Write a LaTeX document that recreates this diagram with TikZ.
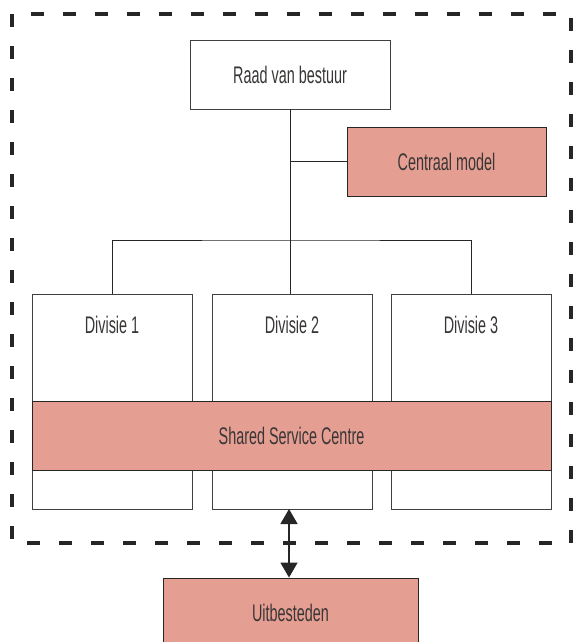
\documentclass[tikz,border=0pt]{standalone}
\usepackage{fontspec}
\setmainfont{Liberation Sans}[FakeStretch=0.6]
\usetikzlibrary{arrows.meta}
\definecolor{salmon}{HTML}{E59E92}
\definecolor{ink}{HTML}{3A3636}
\begin{document}
\begin{tikzpicture}[x=1pt,y=-1pt]
\tikzstyle{box} = [draw=black!75,line width=0.9pt,fill=white,inner sep=0pt,text=ink,font=\fontsize{24}{28}\selectfont]
\tikzstyle{hot} = [box,fill=salmon,draw=black!85]
\tikzstyle{txt} = [inner sep=0pt,text=ink,font=\fontsize{24}{28}\selectfont]
\tikzstyle{wire} = [draw=black!85,line width=0.9pt]
\def\dw{160}
\def\dh{215}
\clip (0,0) rectangle (573,642);
\useasboundingbox (0,0) rectangle (573,642);
% outer boundary
\draw[line width=4pt,black!85,dash pattern=on 13pt off 19pt] (12,14) rectangle (571,543);
% top
\node[box,minimum width=200pt,minimum height=69pt] (raad) at (290,74.5) {Raad van bestuur};
\node[hot,minimum width=199pt,minimum height=69pt] (centraal) at (446.5,161.5) {Centraal model};
% divisions
\node[box,minimum width=\dw pt,minimum height=\dh pt] (div1) at (112,401.5) {};
\node[box,minimum width=\dw pt,minimum height=\dh pt] (div2) at (292,401.5) {};
\node[box,minimum width=\dw pt,minimum height=\dh pt] (div3) at (471,401.5) {};
\node[txt] (div1t) at (112,325) {Divisie 1};
\node[txt] (div2t) at (292,325) {Divisie 2};
\node[txt] (div3t) at (471,325) {Divisie 3};
\node[hot,minimum width=519pt,minimum height=69pt] (ssc) at (291.5,435.5) {Shared Service Centre};
\node[hot,minimum width=255pt,minimum height=69pt] (uit) at (290.5,612.5) {Uitbesteden};
% tree
\coordinate (split) at (290,240);
\coordinate (side) at (290,161.5);
\draw[wire] (raad.south) -- (split);
\draw[wire] (side) -- (centraal.west);
\draw[wire] (div1.north) |- (split) -| (div3.north);
\draw[wire] (split) -- (split |- div2.north);
\draw[line width=1.5pt,black!85,{Triangle[width=17pt,length=15pt]}-{Triangle[width=17pt,length=15pt]}] (289,509) -- (uit.north -| 289,0);
\end{tikzpicture}
\end{document}
